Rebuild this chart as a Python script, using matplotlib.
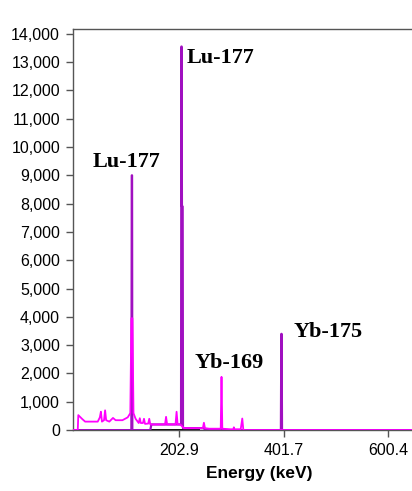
import matplotlib
matplotlib.use("Agg")
from matplotlib import pyplot as plt
from matplotlib.ticker import FuncFormatter

# magenta trace: background continuum + smaller peaks (keV, counts)
mag_energy = [0, 10, 11, 18, 24, 48, 52, 54, 56, 60, 62, 64, 70, 77, 82, 95, 105, 110,
              112, 112.5, 114, 116, 120, 126, 128, 130, 134, 136, 138, 144, 146, 148,
              176, 178, 180, 196, 198, 200, 205, 212, 248, 250, 252, 260, 282, 283.5, 285,
              300, 306, 307, 308, 320, 323, 325, 330, 711]
mag_counts = [0, 0, 530, 400, 300, 300, 450, 650, 300, 350, 700, 350, 300, 430, 350, 350, 450, 600,
              3950, 3950, 3950, 600, 400, 250, 420, 250, 250, 400, 220, 230, 400, 200,
              200, 470, 200, 200, 650, 200, 200, 70, 70, 260, 70, 50, 50, 1880, 50,
              30, 30, 100, 30, 30, 410, 10, 0, 0]

# purple trace: main photopeaks
pur_energy = [0, 112, 112.8, 113.3, 113.8, 148, 150, 206.5, 207.2, 207.6, 208.2, 209.6, 210.2,
              211, 250, 252, 396.5, 397.3, 397.9, 398.6, 711]
pur_counts = [0, 0, 9000, 9000, 0, 0, 200, 200, 13550, 13550, 7900, 7900, 70,
              70, 70, 0, 0, 3400, 3400, 0, 0]

# black trace near zero
blk_energy = [14, 240]
blk_counts = [0, 0]

labels = ["Lu-177", "Lu-177", "Yb-169", "Yb-175"]
label_x = [38.5, 217.5, 233, 419.7]
label_y = [9300, 12980, 2190, 3300]

xticks = [202.9, 401.7, 600.4]
yticks = list(range(0, 14001, 1000))

fig = plt.figure(figsize=(4.12, 4.91), dpi=100)
# axes runs past the right edge of the picture (cropped original)
ax = fig.add_axes([0.176, 0.124, 0.907, 0.817])

ax.plot(blk_energy, blk_counts, color="black", lw=1.4, zorder=2)
ax.plot(pur_energy, pur_counts, color="#A010C0", lw=1.6, zorder=3)
ax.plot(mag_energy, mag_counts, color="#FF00FF", lw=1.3, zorder=4)

for t, x, y in zip(labels, label_x, label_y):
    ax.text(x, y, t, family="Liberation Serif", fontweight="bold", fontsize=16,
            va="baseline", ha="left")

ax.set_xlim(0, 711)
ax.set_ylim(0, 14170)
ax.set_xticks(xticks)
ax.set_xticklabels([f"{v:.1f}" for v in xticks])
ax.set_yticks(yticks)
ax.yaxis.set_major_formatter(FuncFormatter(lambda v, p: f"{int(v):,}"))

for s in ["left", "bottom", "top", "right"]:
    ax.spines[s].set_color("#555555")
    ax.spines[s].set_linewidth(1.0)

ax.tick_params(axis="both", direction="out", length=5, width=1, color="#555555",
               labelsize=11.5, pad=4)
for lab in ax.get_xticklabels() + ax.get_yticklabels():
    lab.set_family("Liberation Sans")

ax.set_xlabel("Energy (keV)", family="Liberation Sans", fontweight="bold",
              fontsize=12.5, labelpad=6)

fig.savefig("out.png", dpi=100)
